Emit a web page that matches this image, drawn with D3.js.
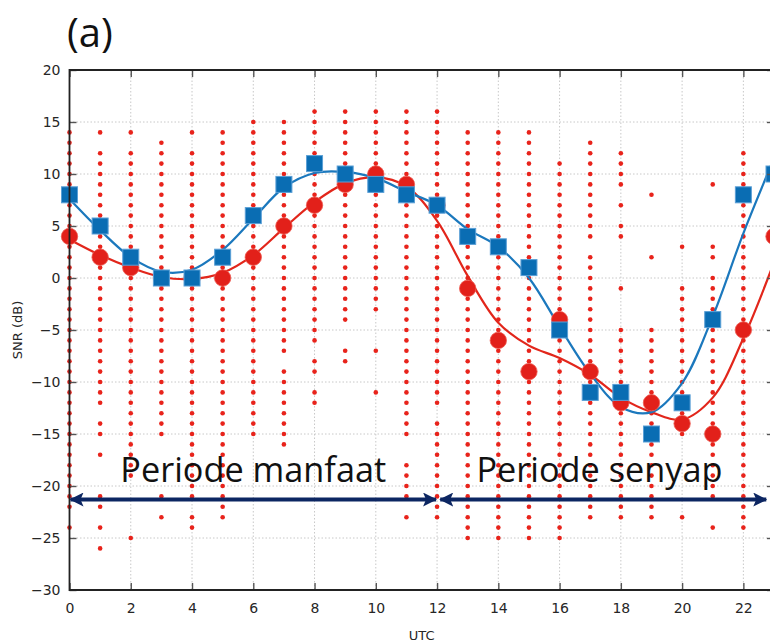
<!DOCTYPE html>
<html><head><meta charset="utf-8">
<script src="https://cdn.jsdelivr.net/npm/d3@7"></script>
<style>body{margin:0;background:#fff} svg{display:block}</style>
</head><body><svg id="c" width="770" height="644"></svg>
<script>
// ---------- data ----------
const hours = [0,1,2,3,4,5,6,7,8,9,10,11,12,13,14,15,16,17,18,19,20,21,22,23];
// hourly median SNR (red circles) and second series (blue squares)
const snrRed  = [4,2,1,0,0,0,2,5,7,9,10,9,7,-1,-6,-9,-4,-9,-12,-12,-14,-15,-5,4];
const snrBlue = [8,5,2,0,0,2,6,9,11,10,9,8,7,4,3,1,-5,-11,-11,-15,-12,-4,8,10];
// smoothed fit curves read at each hour
const fitRed  = [3.7,2.2,1.0,0.1,-0.1,0.5,2.2,4.8,7.3,9.1,9.7,8.8,5.5,0.2,-4.3,-6.5,-7.7,-9.3,-11.5,-12.9,-13.6,-11.5,-5.8,1.5];
const fitBlue = [7.6,4.6,2.0,0.6,0.8,2.7,5.7,8.7,10.1,10.2,9.6,8.3,7.0,4.7,3.0,0.0,-4.7,-9.2,-12.4,-12.9,-10.1,-3.7,4.3,11.5];
// individual SNR observations per hour, given as runs of integer dB [top, bottom]
const spreadRuns = [
  [[14,-22],[-24,-24]],
  [[14,14],[12,-12],[-14,-15],[-17,-17],[-21,-22],[-24,-24],[-26,-26]],
  [[14,14],[12,-19],[-25,-25]],
  [[13,-15],[-21,-21],[-23,-23]],
  [[14,14],[12,-21],[-23,-24]],
  [[14,-23]],
  [[15,-15]],
  [[15,-7],[-9,-16]],
  [[16,-6],[-8,-9],[-11,-12]],
  [[16,-4],[-7,-8]],
  [[16,-3],[-7,-7],[-11,-11]],
  [[16,-15],[-18,-21],[-23,-23]],
  [[16,-12],[-14,-23]],
  [[14,-25]],
  [[14,-25]],
  [[14,-25]],
  [[11,-25]],
  [[13,4],[2,-23]],
  [[12,9],[7,7],[5,4],[-1,-1],[-5,-23]],
  [[8,8],[2,2],[-5,-23]],
  [[3,3],[-1,-15],[-23,-23]],
  [[9,9],[3,2],[0,-21],[-24,-24]],
  [[12,-24]]
];
const xTicks = [0,2,4,6,8,10,12,14,16,18,20,22];
const yTicks = [-30,-25,-20,-15,-10,-5,0,5,10,15,20];
const periodLabels = ["Periode manfaat","Periode senyap"];
const periodFrom = [0,12.07];
const periodTo   = [12,22.78];
const periodMid  = [6,17.3];
const periodLevel = -21.3;
const periodTextLevel = -19.6;

// ---------- drawing ----------
const svg = d3.select("#c");
const x = d3.scaleLinear().domain([0,23]).range([69.5,774]);
const y = d3.scaleLinear().domain([-30,20]).range([590,70]);

// grid
const grid = svg.append("g").attr("stroke","#c8c8c8").attr("stroke-width",1).attr("stroke-dasharray","1.5,2");
grid.selectAll("line.v").data(xTicks.filter(d=>d>0)).join("line")
  .attr("x1",d=>x(d)).attr("x2",d=>x(d)).attr("y1",y(20)).attr("y2",y(-30));
grid.selectAll("line.h").data(yTicks.filter(d=>d>-30&&d<20)).join("line")
  .attr("x1",x(0)).attr("x2",x(23)).attr("y1",d=>y(d)).attr("y2",d=>y(d));

// scatter dots
const dots = [];
spreadRuns.forEach((runs,h)=>runs.forEach(([a,b])=>{ for(let v=a; v>=b; v--) dots.push({h:hours[h],v}); }));
svg.append("g").selectAll("circle").data(dots).join("circle")
  .attr("cx",d=>x(d.h)).attr("cy",d=>y(d.v)).attr("r",2.3).attr("fill","#e8231b");

// fit curves
const line = d3.line().x((d,i)=>x(hours[i])).y(d=>y(d)).curve(d3.curveCatmullRom.alpha(0.5));
svg.append("path").datum(fitRed).attr("d",line).attr("fill","none").attr("stroke","#e2261b").attr("stroke-width",2.2);
svg.append("path").datum(fitBlue).attr("d",line).attr("fill","none").attr("stroke","#1b78bd").attr("stroke-width",2.2);

// markers
svg.append("g").selectAll("circle").data(snrRed).join("circle")
  .attr("cx",(d,i)=>x(hours[i])).attr("cy",d=>y(d)).attr("r",8.2)
  .attr("fill","#e2201a").attr("stroke","#ee5a50").attr("stroke-width",0.8);
svg.append("g").selectAll("rect").data(snrBlue).join("rect")
  .attr("x",(d,i)=>x(hours[i])-8).attr("y",d=>y(d)-8).attr("width",16).attr("height",16)
  .attr("fill","#0a6db3").attr("stroke","#5a9fd6").attr("stroke-width",1);

// axes
const tickStyle = g => { g.select(".domain").remove(); g.selectAll(".tick line").attr("stroke","#555").attr("stroke-width",1.4);
  g.selectAll(".tick text").attr("fill","#262626").style("font-family","DejaVu Sans").style("font-size","14px"); };
svg.append("g").attr("transform",`translate(0,${y(-30)})`)
  .call(d3.axisBottom(x).tickValues(xTicks).tickSize(-7).tickPadding(13)).call(tickStyle);
svg.append("g").attr("transform",`translate(0,${y(20)})`)
  .call(d3.axisTop(x).tickValues(xTicks).tickSize(-7).tickFormat("")).call(tickStyle);
svg.append("g").attr("transform",`translate(${x(0)},0)`)
  .call(d3.axisLeft(y).tickValues(yTicks).tickSize(-7).tickPadding(9)).call(tickStyle);
svg.append("g").attr("transform",`translate(${x(23)},0)`)
  .call(d3.axisRight(y).tickValues(yTicks).tickSize(-7).tickFormat("")).call(tickStyle);

// frame
svg.append("path").attr("d",`M${x(0)},${y(20)}H${x(23)}V${y(-30)}H${x(0)}Z`)
  .attr("fill","none").attr("stroke","#222").attr("stroke-width",1.8);

// axis titles
svg.append("text").attr("x",x(11.5)).attr("y",640).attr("text-anchor","middle")
  .style("font-family","DejaVu Sans").style("font-size","13px").attr("fill","#262626").text("UTC");
svg.append("text").attr("transform",`translate(22,${y(-5)}) rotate(-90)`).attr("text-anchor","middle")
  .style("font-family","DejaVu Sans").style("font-size","13px").attr("fill","#262626").text("SNR (dB)");

// panel label
svg.append("text").attr("x",67).attr("y",47).style("font-family","Open Sans").style("font-size","40px")
  .attr("fill","#111").text("(a)");

// period arrows
const defs = svg.append("defs");
defs.append("marker").attr("id","ah").attr("viewBox","0 0 14 14").attr("refX",13).attr("refY",7)
  .attr("markerWidth",14).attr("markerHeight",14).attr("markerUnits","userSpaceOnUse").attr("orient","auto-start-reverse")
  .append("path").attr("d","M0,0L14,7L0,14L3,7Z").attr("fill","#0c2662");
periodLabels.forEach((lab,i)=>{
  svg.append("line").attr("x1",x(periodFrom[i])+1).attr("x2",x(periodTo[i])-1)
    .attr("y1",y(periodLevel)).attr("y2",y(periodLevel))
    .attr("stroke","#0c2662").attr("stroke-width",4)
    .attr("marker-start","url(#ah)").attr("marker-end","url(#ah)");
});
const labs = svg.selectAll("text.period").data(periodLabels).join("text").attr("class","period")
  .attr("x",(d,i)=>x(periodMid[i])).attr("y",y(periodTextLevel)).attr("text-anchor","middle")
  .style("font-family","Open Sans").style("font-size","32px").attr("fill","#111").text(d=>d);
// fit font size to reference width of first label
const w0 = labs.nodes()[0].getComputedTextLength();
const fs = 32*266/w0;
labs.style("font-size",fs+"px");
</script></body></html>
